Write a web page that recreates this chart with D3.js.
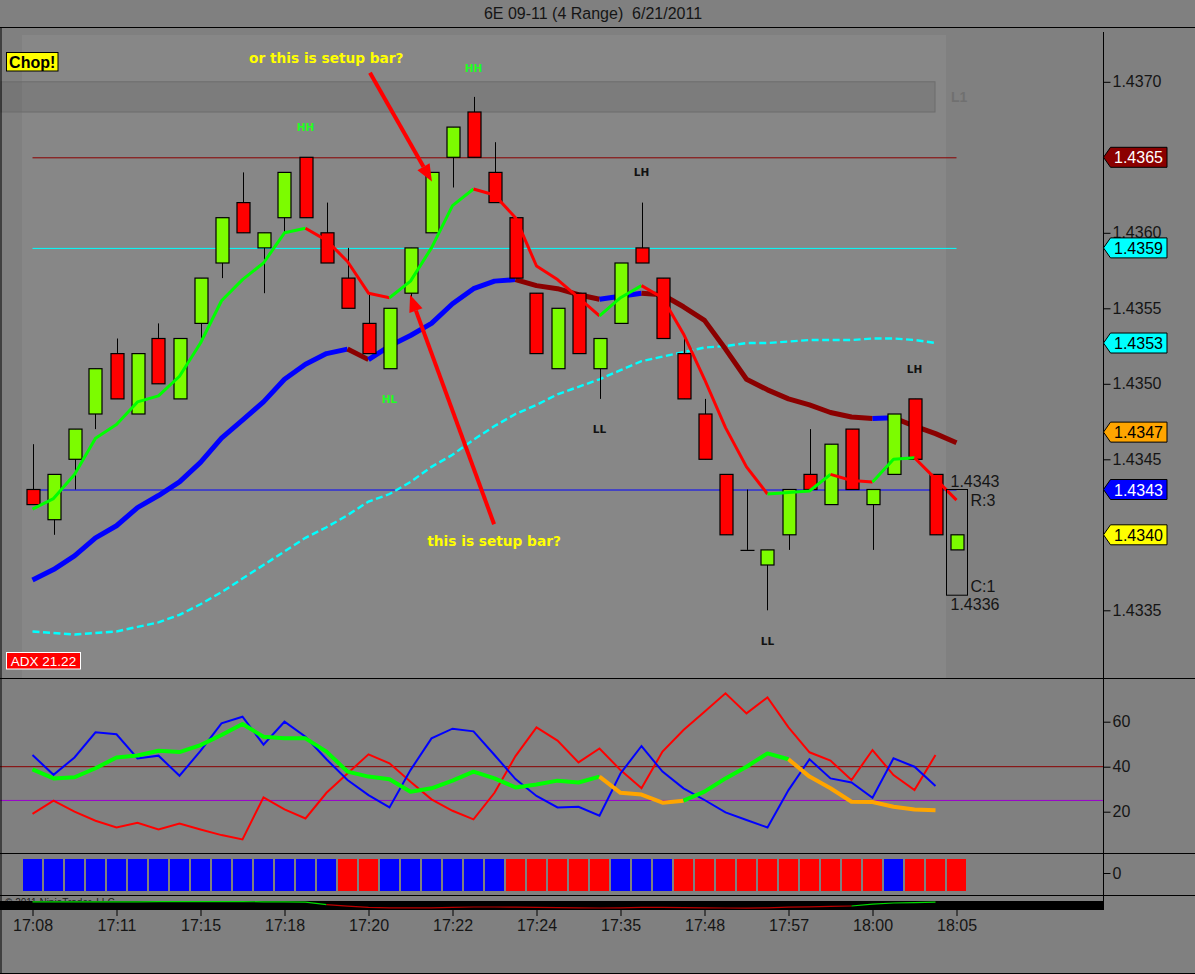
<!DOCTYPE html>
<html>
<head>
<meta charset="utf-8">
<script src="https://cdn.jsdelivr.net/npm/d3@7/dist/d3.min.js"></script>
<style>
  html, body { margin: 0; padding: 0; background: #808080; }
  svg { display: block; }
  text { font-family: "Liberation Sans", Arial, sans-serif; }
</style>
</head>
<body>
<svg id="chart" width="1195" height="974"></svg>
<script>
// ---- range bars (4 ticks), 6E 09-11 ----
const opens  = [1.4343,1.4341,1.4345,1.4348,1.4352,1.4348,1.4353,1.4349,1.4354,1.4358,1.4362,1.4359,1.4361,1.4365,1.4360,1.4357,1.4354,1.4351,1.4356,1.4360,1.4365,1.4368,1.4364,1.4361,1.4356,1.4351,1.4356,1.4351,1.4354,1.4359,1.4357,1.4352,1.4348,1.4344,1.4339,1.4338,1.4340,1.4344,1.4342,1.4347,1.4342,1.4344,1.4349,1.4344,1.4339];
const highs  = [1.4346,1.4344,1.4347,1.4351,1.4353,1.4352,1.4354,1.4353,1.4357,1.4361,1.4364,1.4360,1.4364,1.4365,1.4362,1.4359,1.4356,1.4355,1.4359,1.4364,1.4367,1.4369,1.4366,1.4361,1.4356,1.4355,1.4356,1.4353,1.4358,1.4362,1.4357,1.4353,1.4349,1.4344,1.4343,1.4339,1.4343,1.4347,1.4346,1.4347,1.4343,1.4348,1.4349,1.4344,1.4340];
const lows   = [1.4342,1.4340,1.4343,1.4347,1.4349,1.4348,1.4350,1.4349,1.4353,1.4357,1.4360,1.4356,1.4360,1.4361,1.4358,1.4355,1.4352,1.4351,1.4355,1.4360,1.4363,1.4365,1.4362,1.4357,1.4352,1.4351,1.4352,1.4349,1.4354,1.4358,1.4353,1.4349,1.4345,1.4340,1.4339,1.4335,1.4339,1.4343,1.4342,1.4343,1.4339,1.4344,1.4345,1.4340,1.4339];
const closes = [1.4342,1.4344,1.4347,1.4351,1.4349,1.4352,1.4350,1.4353,1.4357,1.4361,1.4360,1.4360,1.4364,1.4361,1.4358,1.4355,1.4352,1.4355,1.4359,1.4364,1.4367,1.4365,1.4362,1.4357,1.4352,1.4355,1.4352,1.4353,1.4358,1.4358,1.4353,1.4349,1.4345,1.4340,1.4339,1.4339,1.4343,1.4343,1.4346,1.4343,1.4343,1.4348,1.4345,1.4340,1.4340];

// moving averages
const fastMA = [1.43417,1.43424,1.43440,1.43464,1.43473,1.43488,1.43492,1.43505,1.43527,1.43555,1.43569,1.43580,1.43600,1.43603,1.43595,1.43581,1.43560,1.43557,1.43568,1.43590,1.43618,1.43629,1.43625,1.43610,1.43578,1.43569,1.43557,1.43545,1.43557,1.43565,1.43557,1.43533,1.43503,1.43471,1.43445,1.43427,1.43428,1.43429,1.43440,1.43436,1.43435,1.43450,1.43451,1.43437,1.43423];
const midMA  = [1.43370,1.43377,1.43386,1.43398,1.43406,1.43418,1.43426,1.43435,1.43448,1.43464,1.43476,1.43488,1.43503,1.43513,1.43520,1.43523,1.43516,1.43525,1.43532,1.43540,1.43553,1.43563,1.43568,1.43569,1.43565,1.43563,1.43559,1.43556,1.43558,1.43560,1.43559,1.43551,1.43542,1.43523,1.43503,1.43496,1.43490,1.43486,1.43481,1.43478,1.43477,1.434775,1.43472,1.43467,1.43461];
const slowMA = [1.43336,1.43335,1.43334,1.43335,1.43336,1.43339,1.43342,1.43347,1.43354,1.43362,1.43371,1.43380,1.43389,1.43398,1.43405,1.43413,1.43422,1.43427,1.43435,1.43445,1.43453,1.43463,1.43472,1.43480,1.43486,1.43493,1.43498,1.43503,1.43509,1.43515,1.43518,1.43521,1.43524,1.43525,1.43527,1.43527,1.43528,1.43529,1.43529,1.43529,1.43530,1.43530,1.43529,1.43527];

// levels
const levelHigh = 1.4365, levelMid = 1.4359, levelLow = 1.4343;
const zoneLow = 1.4368, zoneHigh = 1.4370;
const rangeTop = 1.4343, rangeBottom = 1.4336;

// badges on price axis
const badgeValues = [1.4365, 1.4359, 1.43527, 1.43468, 1.4343, 1.4340];
const badgeFills  = ['#8B0000', '#00FFFF', '#00FFFF', '#FFA500', '#0000FF', '#FFFF00'];
const badgeInk    = ['#FFFFFF', '#000000', '#000000', '#000000', '#FFFFFF', '#000000'];

// swing labels
const swingBars   = [13, 21, 17, 29, 27, 35, 42];
const swingPrices = [1.43670, 1.43709, 1.43490, 1.43640, 1.43470, 1.43330, 1.43510];
const swingTexts  = ['HH', 'HH', 'HL', 'LH', 'LL', 'LL', 'LH'];

// DMI / ADX panel
const diPlus  = [45.2,36.4,44.1,55.3,54.4,43.7,44.9,36.0,47.0,59.3,62.2,49.8,60.0,53.3,43.3,34.1,27.4,21.9,38.5,52.6,56.9,55.7,45.2,34.5,27.0,21.9,22.2,18.2,37.0,49.2,37.8,30.4,25.2,19.7,16.3,13.0,29.6,43.3,34.8,33.0,26.2,43.7,40.0,31.4];
const diMinus = [19.0,24.9,20.0,16.0,13.0,15.1,12.1,14.7,12.1,9.6,7.7,26.4,21.0,17.0,28.4,37.0,45.5,41.5,33.3,25.5,20.4,16.6,28.4,44.7,57.5,51.6,41.9,48.1,38.5,30.4,46.7,56.3,64.4,72.6,63.7,70.8,57.5,46.4,42.7,34.1,47.4,36.3,29.6,45.2];
const adx     = [38.8,34.8,35.3,39.3,44.1,45.0,47.1,46.5,49.6,54.1,59.0,53.3,52.6,52.6,46.7,37.8,35.6,34.4,28.9,30.4,33.8,37.8,34.8,30.8,32.1,33.8,33.0,35.6,28.4,27.6,24.0,24.9,28.9,34.8,40.0,45.9,43.3,35.6,30.4,24.4,24.3,22.2,21.0,20.6];
const adxGreen = [1,1,1,1,1,1,1,1,1,1,1,1,1,1,1,1,1,1,1,1,1,1,1,1,1,1,1,1,0,0,0,0,1,1,1,1,1,0,0,0,0,0,0,0];
const dmiHigh = 40, dmiLow = 25;

// trend histogram: 1 = blue, 0 = red
const trendUp = [1,1,1,1,1,1,1,1,1,1,1,1,1,1,1,0,0,1,1,1,1,1,1,0,0,0,0,0,1,1,1,0,0,0,0,0,0,0,0,0,0,1,0,0,0];

// bottom strip oscillator
const stripOsc = [8,8,8,8,8,8,8.5,8.5,8.5,8.5,8.5,8,8,7,1,-3,-6,-7,-7,-7,-6,-5,-5,-5.5,-6,-6.5,-7,-7.5,-7,-6,-6,-6.5,-7,-7.5,-8,-7,-5.5,-4.5,-3.5,-2.5,2,5,6,7];

// axis labels
const priceTicks = [1.4335, 1.4340, 1.4345, 1.4350, 1.4355, 1.4360, 1.4365, 1.4370];
const dmiTicks = [20, 40, 60];
const histTicks = [0];
const timeBars = [0, 4, 8, 12, 16, 20, 24, 28, 32, 36, 40, 44];
const timeLabels = ['17:08','17:11','17:15','17:18','17:20','17:22','17:24','17:35','17:48','17:57','18:00','18:05'];

// annotations (bar index, price)
const noteTexts  = ['or this is setup bar?', 'this is setup bar?'];
const noteBars   = [13.99, 21.98];
const notePrices = [1.43716, 1.43396];
const arrowFrom  = [[16.07, 1.43706], [21.98, 1.43407]];
const arrowTo    = [[19.02, 1.43634], [17.98, 1.43559]];

// ---- layout ----
const W = 1195, H = 974;
const axisX = 1103.5;
const svg = d3.select('#chart');

const x = d3.scaleLinear().domain([0, 44]).range([32.5, 956.5]);
const y = d3.scaleLinear().domain([1.4335, 1.4370]).range([610.3, 81.8]);
const yDmi = d3.scaleLinear().domain([20, 60]).range([811.7, 721.7]);
const yOsc = d3.scaleLinear().domain([-10, 10]).range([909, 901]);
const fmt = d3.format('.4f');

// backgrounds
svg.append('rect').attr('width', W).attr('height', H).attr('fill', '#808080');
svg.append('rect').attr('x', 22).attr('y', 35).attr('width', 924).attr('height', 643).attr('fill', '#878787');

// title
svg.append('text').attr('x', 593).attr('y', 19).attr('text-anchor', 'middle')
  .style('font-size', '16px').style('fill', '#151515').style('white-space', 'pre')
  .text('6E 09-11 (4 Range)  6/21/2011');

// zone box
svg.append('rect').attr('x', 1).attr('y', y(zoneHigh)).attr('width', 934)
  .attr('height', y(zoneLow) - y(zoneHigh))
  .attr('fill', 'rgba(0,0,0,0.08)').attr('stroke', '#6c6c6c').attr('stroke-width', 1);
svg.append('text').attr('x', 951).attr('y', y((zoneLow + zoneHigh) / 2) + 5)
  .style('font-size', '14px').style('font-weight', 'bold').style('fill', '#707070').text('L1');

// level lines
[[levelHigh, '#8B0000'], [levelMid, '#00FFFF'], [levelLow, '#0000FF']].forEach(([v, c]) => {
  svg.append('line').attr('x1', x(0)).attr('x2', x(44)).attr('y1', y(v) + 0.5).attr('y2', y(v) + 0.5)
    .attr('stroke', c).attr('stroke-width', 1);
});

function colorRuns(values, colorOf) {
  const runs = [];
  let cur = null;
  for (let i = 1; i < values.length; i++) {
    const c = colorOf(i);
    if (!cur || cur.color !== c) { cur = { color: c, pts: [i - 1] }; runs.push(cur); }
    cur.pts.push(i);
  }
  return runs;
}
function slopeColor(values, up, down) {
  let last = up;
  return i => {
    if (values[i] > values[i - 1]) last = up;
    else if (values[i] < values[i - 1]) last = down;
    return last;
  };
}

// slow dashed MA
svg.append('path').datum(slowMA)
  .attr('d', d3.line().x((d, i) => x(i)).y(d => y(d)))
  .attr('fill', 'none').attr('stroke', '#00FFFF').attr('stroke-width', 2.4).attr('stroke-dasharray', '7,3.5');

// medium MA
const priceLine = (vals) => d3.line().x(i => x(i)).y(i => y(vals[i]));
colorRuns(midMA, slopeColor(midMA, '#0000FF', '#8B0000')).forEach(r => {
  svg.append('path').attr('d', priceLine(midMA)(r.pts)).attr('fill', 'none')
    .attr('stroke', r.color).attr('stroke-width', 5).attr('stroke-linejoin', 'round');
});

// candles
const bars = d3.range(opens.length);
const bodyW = 13;
svg.append('g').selectAll('line').data(bars).join('line')
  .attr('x1', i => Math.round(x(i)) + 0.5).attr('x2', i => Math.round(x(i)) + 0.5)
  .attr('y1', i => y(highs[i])).attr('y2', i => y(lows[i]))
  .attr('stroke', '#000').attr('stroke-width', 1);
svg.append('g').selectAll('rect').data(bars.filter(i => opens[i] !== closes[i])).join('rect')
  .attr('x', i => Math.round(x(i)) - bodyW / 2 + 0.5)
  .attr('y', i => y(Math.max(opens[i], closes[i])))
  .attr('width', bodyW)
  .attr('height', i => Math.abs(y(opens[i]) - y(closes[i])))
  .attr('fill', i => closes[i] > opens[i] ? '#7CFC00' : '#FF0000')
  .attr('stroke', '#000').attr('stroke-width', 1.2);
svg.append('g').selectAll('line').data(bars.filter(i => opens[i] === closes[i])).join('line')
  .attr('x1', i => Math.round(x(i)) - bodyW / 2).attr('x2', i => Math.round(x(i)) + bodyW / 2 + 1)
  .attr('y1', i => y(opens[i]) + 0.5).attr('y2', i => y(opens[i]) + 0.5)
  .attr('stroke', '#000').attr('stroke-width', 1.2);

// fast MA
colorRuns(fastMA, slopeColor(fastMA, '#00FF00', '#FF0000')).forEach(r => {
  svg.append('path').attr('d', priceLine(fastMA)(r.pts)).attr('fill', 'none')
    .attr('stroke', r.color).attr('stroke-width', 3).attr('stroke-linejoin', 'round');
});

// range box on the last bar
const lastX = x(44);
svg.append('rect').attr('x', lastX - 10).attr('y', y(rangeTop)).attr('width', 21)
  .attr('height', y(rangeBottom) - y(rangeTop))
  .attr('fill', 'none').attr('stroke', '#000').attr('stroke-width', 1);
const boxText = (tx, ty, s) => svg.append('text').attr('x', tx).attr('y', ty)
  .style('font-size', '16px').style('fill', '#151515').text(s);
boxText(lastX - 6, y(rangeTop) - 3, fmt(rangeTop));
boxText(lastX + 14, y(rangeTop) + 16, 'R:3');
boxText(lastX + 14, y(rangeBottom) - 3, 'C:1');
boxText(lastX - 6, y(rangeBottom) + 15, fmt(rangeBottom));

// swing labels
swingTexts.forEach((t, k) => {
  svg.append('text').attr('x', x(swingBars[k])).attr('y', y(swingPrices[k]) + 4)
    .attr('text-anchor', 'middle')
    .style('font-family', '"DejaVu Sans", Verdana, sans-serif')
    .style('font-size', '10.5px').style('font-weight', 'bold')
    .style('fill', t === 'HH' || t === 'HL' ? '#22FF22' : '#111')
    .text(t);
});

// annotation arrows
arrowFrom.forEach((f, k) => {
  const x1 = x(f[0]), y1 = y(f[1]);
  const x2 = x(arrowTo[k][0]), y2 = y(arrowTo[k][1]);
  const ang = Math.atan2(y2 - y1, x2 - x1);
  const hl = 17, hw = 7;
  const bx = x2 - hl * Math.cos(ang), by = y2 - hl * Math.sin(ang);
  svg.append('line').attr('x1', x1).attr('y1', y1).attr('x2', bx).attr('y2', by)
    .attr('stroke', '#FF0000').attr('stroke-width', 4);
  svg.append('polygon')
    .attr('points', [
      [x2, y2],
      [bx + hw * Math.sin(ang), by - hw * Math.cos(ang)],
      [bx - hw * Math.sin(ang), by + hw * Math.cos(ang)]
    ].map(p => p.join(',')).join(' '))
    .attr('fill', '#FF0000');
});
noteTexts.forEach((t, k) => {
  svg.append('text').attr('x', x(noteBars[k])).attr('y', y(notePrices[k]) + 5)
    .attr('text-anchor', 'middle')
    .style('font-family', '"DejaVu Sans", Verdana, sans-serif')
    .style('font-size', '13.7px').style('font-weight', 'bold').style('fill', '#FFFF00')
    .text(t);
});

// Chop! and ADX tags
svg.append('rect').attr('x', 6.5).attr('y', 52.5).attr('width', 51.5).attr('height', 18.5)
  .attr('fill', '#FFFF00').attr('stroke', '#000').attr('stroke-width', 1);
svg.append('text').attr('x', 32.2).attr('y', 67.5).attr('text-anchor', 'middle')
  .style('font-size', '16px').style('font-weight', 'bold').style('fill', '#000').text('Chop!');
svg.append('rect').attr('x', 6.5).attr('y', 652.5).attr('width', 74).attr('height', 16.5)
  .attr('fill', '#FF0000').attr('stroke', '#FFFFFF').attr('stroke-width', 1);
svg.append('text').attr('x', 43.5).attr('y', 666).attr('text-anchor', 'middle')
  .style('font-size', '13.5px').style('fill', '#FFFFFF').text('ADX 21.22');

// ---- DMI / ADX panel ----
[[dmiHigh, '#8B0000'], [dmiLow, '#9900CC']].forEach(([v, c]) => {
  svg.append('line').attr('x1', 0).attr('x2', axisX).attr('y1', yDmi(v)).attr('y2', yDmi(v))
    .attr('stroke', c).attr('stroke-width', 1);
});
const dmiLine = d3.line().x((d, i) => x(i)).y(d => yDmi(d));
svg.append('path').datum(diMinus).attr('d', dmiLine).attr('fill', 'none')
  .attr('stroke', '#FF0000').attr('stroke-width', 2);
svg.append('path').datum(diPlus).attr('d', dmiLine).attr('fill', 'none')
  .attr('stroke', '#0000FF').attr('stroke-width', 2);
const adxLine = d3.line().x(i => x(i)).y(i => yDmi(adx[i]));
colorRuns(adx, i => adxGreen[i] ? '#00FF00' : '#FFA500').forEach(r => {
  svg.append('path').attr('d', adxLine(r.pts)).attr('fill', 'none')
    .attr('stroke', r.color).attr('stroke-width', 4).attr('stroke-linejoin', 'round');
});

// ---- trend histogram ----
svg.append('g').selectAll('rect').data(trendUp).join('rect')
  .attr('x', (d, i) => x(i) - 9.5).attr('y', 859).attr('width', 19).attr('height', 32)
  .attr('fill', d => d ? '#0000FF' : '#FF0000');

// ---- bottom strip ----
svg.append('text').attr('x', 5).attr('y', 906).style('font-size', '10px').style('fill', '#222')
  .text('\u00A9 2011 NinjaTrader, LLC');
svg.append('rect').attr('x', 0).attr('y', 901).attr('width', axisX).attr('height', 9).attr('fill', '#000');
const oscLine = d3.line().x(i => x(i)).y(i => yOsc(stripOsc[i]));
colorRuns(stripOsc, i => stripOsc[i] >= 0 ? '#00DD00' : '#BB0000').forEach(r => {
  svg.append('path').attr('d', oscLine(r.pts)).attr('fill', 'none')
    .attr('stroke', r.color).attr('stroke-width', 1.2);
});

// ---- frames ----
[27.5, 678.5, 853.5, 895.5].forEach(v => {
  svg.append('line').attr('x1', 0).attr('x2', W).attr('y1', v).attr('y2', v)
    .attr('stroke', '#000').attr('stroke-width', 1);
});
svg.append('line').attr('x1', 1).attr('x2', 1).attr('y1', 27).attr('y2', 973).attr('stroke', '#000');
svg.append('line').attr('x1', 0).attr('x2', W).attr('y1', 973.5).attr('y2', 973.5).attr('stroke', '#000');
svg.append('line').attr('x1', axisX).attr('x2', axisX).attr('y1', 32).attr('y2', 910).attr('stroke', '#000');

// ---- axes ----
const styleAxis = g => {
  g.select('.domain').remove();
  g.selectAll('.tick line').attr('stroke', '#000');
  g.selectAll('.tick text').style('font-size', '16px').style('fill', '#151515')
    .style('font-family', '"Liberation Sans", Arial, sans-serif');
};
svg.append('g').attr('transform', `translate(${axisX},0)`)
  .call(d3.axisRight(y).tickValues(priceTicks).tickFormat(fmt).tickSize(7).tickPadding(2))
  .call(styleAxis);
svg.append('g').attr('transform', `translate(${axisX},0)`)
  .call(d3.axisRight(yDmi).tickValues(dmiTicks).tickFormat(d3.format('d')).tickSize(7).tickPadding(2))
  .call(styleAxis);
const yHist = d3.scaleLinear().domain([-1, 1]).range([895, 853]);
svg.append('g').attr('transform', `translate(${axisX},-1)`)
  .call(d3.axisRight(yHist).tickValues(histTicks).tickFormat(d3.format('d')).tickSize(7).tickPadding(2))
  .call(styleAxis);
svg.append('g').attr('transform', 'translate(0,910)')
  .call(d3.axisBottom(x).tickValues(timeBars).tickFormat((d, k) => timeLabels[k]).tickSize(6).tickPadding(4))
  .call(styleAxis);

// ---- badges ----
badgeValues.forEach((v, k) => {
  const cy = y(v);
  const g = svg.append('g');
  g.append('polygon')
    .attr('points', [[axisX, cy], [axisX + 7, cy - 10], [1167, cy - 10], [1167, cy + 10], [axisX + 7, cy + 10]]
      .map(p => p.join(',')).join(' '))
    .attr('fill', badgeFills[k]).attr('stroke', '#000').attr('stroke-width', 1);
  g.append('text').attr('x', 1114).attr('y', cy + 6)
    .style('font-size', '16px').style('fill', badgeInk[k]).text(fmt(v));
});
</script>
</body>
</html>
